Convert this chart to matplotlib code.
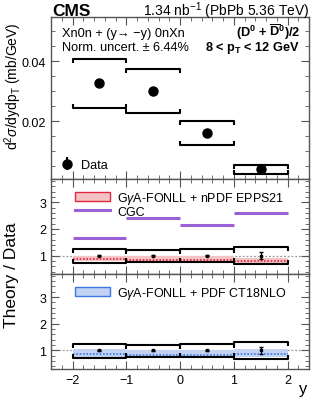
import numpy as np
import matplotlib
matplotlib.use("Agg")
import matplotlib.pyplot as plt
from matplotlib.ticker import MultipleLocator
from matplotlib.patches import Patch
from matplotlib.lines import Line2D

plt.rcParams['font.family'] = ['Liberation Sans', 'DejaVu Sans']
plt.rcParams['mathtext.fontset'] = 'custom'
plt.rcParams['mathtext.rm'] = 'Liberation Sans'
plt.rcParams['mathtext.it'] = 'Liberation Sans:italic'
plt.rcParams['mathtext.bf'] = 'Liberation Sans:bold'

# binning in rapidity
edges = [-2, -1, 0, 1, 2]
centers = [-1.5, -0.5, 0.5, 1.5]

# cross section (mb/GeV)
xsec = [0.0326, 0.0301, 0.0161, 0.0039]
xsec_stat = [0.0005, 0.0004, 0.0003, 0.0004]
xsec_sys_hi = [0.0408, 0.0374, 0.0199, 0.0053]
xsec_sys_lo = [0.0243, 0.0226, 0.0121, 0.0025]

# data uncertainties relative to 1
ratio_stat = [0.03, 0.02, 0.03, 0.13]
ratio_sys_hi = [1.26, 1.22, 1.24, 1.31]
ratio_sys_lo = [0.73, 0.76, 0.76, 0.68]

# theory / data
epps_c = [0.87, 0.83, 0.83, 0.78]
epps_lo = [0.78, 0.76, 0.76, 0.70]
epps_hi = [1.00, 0.97, 0.97, 0.92]
cgc = [1.65, 2.42, 2.15, 2.60]
ct18_c = [0.86, 0.83, 0.83, 0.85]
ct18_lo = [0.76, 0.73, 0.73, 0.74]
ct18_hi = [1.05, 1.02, 1.02, 1.04]

fig = plt.figure(figsize=(3.19, 4.02), dpi=100)
L, W = 0.160, 0.809
ax1 = fig.add_axes([L, 0.552, W, 0.403])
ax2 = fig.add_axes([L, 0.316, W, 0.236])
ax3 = fig.add_axes([L, 0.080, W, 0.236])


def brackets(ax, lo, hi, tick):
    for i in range(len(lo)):
        x0, x1 = edges[i], edges[i + 1]
        ax.plot([x0, x0, x1, x1], [hi[i] - tick, hi[i], hi[i], hi[i] - tick],
                color='black', lw=1.5, solid_capstyle='butt', zorder=4)
        ax.plot([x0, x0, x1, x1], [lo[i] + tick, lo[i], lo[i], lo[i] + tick],
                color='black', lw=1.5, solid_capstyle='butt', zorder=4)


def style(ax):
    ax.set_xlim(-2.4, 2.4)
    ax.xaxis.set_major_locator(MultipleLocator(1))
    ax.xaxis.set_minor_locator(MultipleLocator(0.2))
    ax.tick_params(which='both', direction='in', top=True, right=True,
                   labelsize=9, color='#555555')
    ax.tick_params(which='major', length=6)
    ax.tick_params(which='minor', length=3)
    for s in ax.spines.values():
        s.set_color('#555555')
        s.set_linewidth(1.0)


# top panel
style(ax1)
brackets(ax1, xsec_sys_lo, xsec_sys_hi, 0.0013)
ax1.errorbar(centers, xsec, yerr=xsec_stat, fmt='o', color='black',
             ms=6.5, capsize=2, elinewidth=1, zorder=5)
ax1.set_ylim(0.0007, 0.0547)
ax1.yaxis.set_major_locator(MultipleLocator(0.02))
ax1.yaxis.set_minor_locator(MultipleLocator(0.005))
ax1.tick_params(labelbottom=False)
fig.text(0.042, 0.786, r'd$^{2}\sigma$/dydp$_{\mathrm{T}}$ (mb/GeV)', fontsize=10,
         rotation=90, ha='center', va='center')
ax1.text(0.043, 0.882, 'Xn0n + (y\u2192 \u2212y) 0nXn', transform=ax1.transAxes,
         fontsize=9.2, va='baseline')
ax1.text(0.043, 0.797, 'Norm. uncert. \u00b1 6.44%', transform=ax1.transAxes,
         fontsize=9.2, va='baseline')
ax1.text(0.965, 0.886, r'(D$^{\mathbf{0}}$ + $\mathbf{\overline{D}}^{\mathbf{0}}$)/2',
         transform=ax1.transAxes, fontsize=9.2, va='baseline', ha='right',
         fontweight='bold')
ax1.text(0.965, 0.795, r'8 < p$_{\mathbf{T}}$ < 12 GeV', transform=ax1.transAxes,
         fontsize=9.2, va='baseline', ha='right', fontweight='bold')
h_data = ax1.errorbar([], [], yerr=[], fmt='o', color='black', ms=6.5, capsize=2)
ax1.legend([h_data], ['Data'], loc='center left', frameon=False, fontsize=9.2,
           handlelength=1.0, handletextpad=0.6, borderaxespad=0, borderpad=0,
           bbox_to_anchor=(0.037, 0.086))

fig.text(0.165, 0.9614, 'CMS', fontsize=12.5, fontweight='bold', ha='left', va='baseline')
fig.text(0.969, 0.9614, r'1.34 nb$^{-1}$ (PbPb 5.36 TeV)', fontsize=10, ha='right',
         va='baseline')


def step_band(ax, lo, hi, c, fill, line):
    for i in range(len(lo)):
        ax.fill_between([edges[i], edges[i + 1]], lo[i], hi[i], color=fill,
                        lw=0, zorder=2)
        ax.plot([edges[i], edges[i + 1]], [c[i], c[i]], color=line, lw=1.2,
                ls=(0, (1, 1)), zorder=3)


def ratio_common(ax):
    style(ax)
    ax.set_ylim(0.31, 3.87)
    ax.yaxis.set_major_locator(MultipleLocator(1))
    ax.yaxis.set_minor_locator(MultipleLocator(0.2))
    ax.axhline(1, color='#999999', lw=0.9, ls=(0, (1.5, 1.5)), zorder=1)
    brackets(ax, ratio_sys_lo, ratio_sys_hi, 0.15)
    ax.errorbar(centers, [1] * 4, yerr=ratio_stat, fmt='s', color='black',
                ms=1.5, capsize=1.5, elinewidth=0.9, zorder=5)


# middle panel
ratio_common(ax2)
ax2.tick_params(labelbottom=False)
step_band(ax2, epps_lo, epps_hi, epps_c, '#f5c2c6', '#e0283c')
for i in range(4):
    ax2.plot([edges[i], edges[i + 1]], [cgc[i], cgc[i]], color='#9b5fd6', lw=2.2,
             solid_capstyle='butt', zorder=3)
h_epps = Patch(facecolor='#f5c2c6', edgecolor='#e0283c', lw=1)
h_cgc = Line2D([], [], color='#9b5fd6', lw=2.2)
ax2.legend([h_epps, h_cgc], [r'G$\gamma$A-FONLL + nPDF EPPS21', 'CGC'],
           loc='upper left', frameon=False, fontsize=9, handlelength=2.8,
           handletextpad=0.6, labelspacing=0.0, borderaxespad=0.45,
           bbox_to_anchor=(0.05, 1.0))

# bottom panel
ratio_common(ax3)
step_band(ax3, ct18_lo, ct18_hi, ct18_c, '#c2d2f2', '#3a78e0')
h_ct18 = Patch(facecolor='#c2d2f2', edgecolor='#3a78e0', lw=1)
ax3.legend([h_ct18], [r'G$\gamma$A-FONLL + PDF CT18NLO'], loc='upper left',
           frameon=False, fontsize=9, handlelength=2.8, handletextpad=0.6,
           borderaxespad=0.45, bbox_to_anchor=(0.05, 1.0))
fig.text(0.95, 0.030, 'y', fontsize=12, ha='center', va='center')

fig.text(0.035, 0.316, 'Theory / Data', rotation=90, fontsize=12.5, ha='center',
         va='center')

fig.savefig('out.png', dpi=100)
